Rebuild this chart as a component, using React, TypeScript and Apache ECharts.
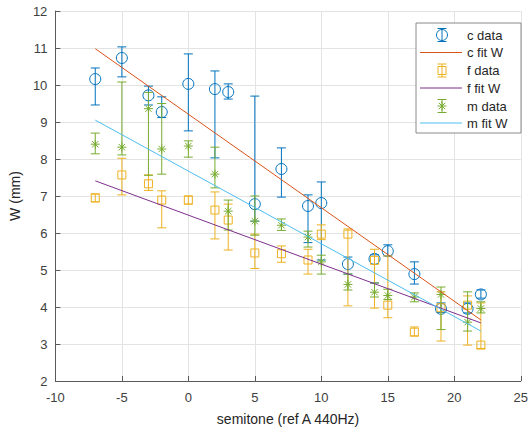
import React, { useEffect, useRef } from "react";
import * as echarts from "echarts";

// semitone positions (ref A 440Hz)
const semitones = [-7, -5, -3, -2, 0, 2, 3, 5, 7, 9, 10, 12, 14, 15, 17, 19, 21, 22];

// c data: mean, lower, upper
const cMean = [10.16, 10.73, 9.72, 9.27, 10.03, 9.89, 9.81, 6.78, 7.73, 6.73, 6.81, 5.16, 5.3, 5.51, 4.89, 3.95, 3.95, 4.34];
const cLow = [9.46, 10.22, 9.46, 9.12, 8.76, 8.03, 9.62, 6.32, 6.97, 5.74, 5.27, 4.89, 4.65, 5.38, 4.62, 3.85, 3.84, 4.24];
const cHigh = [10.46, 11.03, 9.97, 9.68, 10.84, 10.38, 10.03, 9.7, 8.3, 7.03, 7.38, 5.35, 5.41, 5.68, 5.22, 4.11, 4.11, 4.46];

// f data
const fMean = [6.95, 7.57, 7.33, 6.89, 6.89, 6.62, 6.35, 5.46, 5.44, 5.27, 5.97, 5.97, 5.26, 4.05, 3.32, 3.98, 4.05, 2.97];
const fLow = [6.84, 7.03, 7.15, 6.14, 6.78, 5.84, 5.54, 5.04, 5.21, 4.89, 5.82, 4.03, 3.97, 3.71, 3.22, 3.08, 2.97, 2.88];
const fHigh = [7.05, 8.02, 7.57, 7.14, 7.0, 7.11, 6.78, 5.97, 5.65, 5.56, 6.22, 6.11, 5.56, 5.38, 3.46, 4.41, 4.3, 4.11];

// m data
const mMean = [8.4, 8.32, 9.36, 8.27, 8.35, 7.59, 6.59, 6.32, 6.21, 5.89, 5.22, 4.61, 4.4, 4.31, 4.27, 4.34, 3.59, 3.96];
const mLow = [8.14, 8.11, 7.56, 7.59, 8.05, 7.22, 6.08, 5.94, 6.07, 5.62, 4.89, 4.46, 4.27, 4.2, 4.14, 3.39, 3.35, 3.84];
const mHigh = [8.7, 10.08, 9.8, 9.5, 8.49, 8.32, 6.89, 7.0, 6.38, 6.05, 5.4, 4.89, 4.65, 4.48, 4.38, 4.54, 4.41, 4.14];

// linear fits (endpoints)
const fitX = [-7, 22];
const cFit = [10.98, 3.65];
const fFit = [7.41, 3.57];
const mFit = [9.05, 3.35];

const legendLabels = ["c data", "c fit W", "f data", "f fit W", "m data", "m fit W"];

const BLUE = "#0072BD";
const RED = "#D95319";
const YELLOW = "#EDB120";
const PURPLE = "#7E2F8E";
const GREEN = "#77AC30";
const CYAN = "#4DBEEE";

type Kind = "circle" | "square" | "star";

function marker(kind: Kind, cx: number, cy: number, color: string): any[] {
  const st = { fill: "none", stroke: color, lineWidth: 1 };
  if (kind === "circle") {
    return [{ type: "circle", shape: { cx, cy, r: 5.5 }, style: st }];
  }
  if (kind === "square") {
    return [{ type: "rect", shape: { x: cx - 4, y: cy - 4, width: 8, height: 8 }, style: st }];
  }
  const a = 4.5;
  const d = 3.2;
  return [
    { type: "line", shape: { x1: cx - a, y1: cy, x2: cx + a, y2: cy }, style: st },
    { type: "line", shape: { x1: cx, y1: cy - a, x2: cx, y2: cy + a }, style: st },
    { type: "line", shape: { x1: cx - d, y1: cy - d, x2: cx + d, y2: cy + d }, style: st },
    { type: "line", shape: { x1: cx - d, y1: cy + d, x2: cx + d, y2: cy - d }, style: st },
  ];
}

function errorGlyph(kind: Kind, cx: number, cy: number, top: number, bottom: number, color: string): any[] {
  const st = { stroke: color, lineWidth: 1 };
  const cap = 4.5;
  return [
    { type: "line", shape: { x1: cx, y1: top, x2: cx, y2: bottom }, style: st },
    { type: "line", shape: { x1: cx - cap, y1: top, x2: cx + cap, y2: top }, style: st },
    { type: "line", shape: { x1: cx - cap, y1: bottom, x2: cx + cap, y2: bottom }, style: st },
    ...marker(kind, cx, cy, color),
  ];
}

function errSeries(name: string, mean: number[], lo: number[], hi: number[], kind: Kind, color: string) {
  return {
    type: "custom",
    name,
    data: semitones.map((x, i) => [x, mean[i], lo[i], hi[i]]),
    encode: { x: 0, y: 1 },
    renderItem: (_params: any, api: any) => {
      const x = api.value(0);
      const p = api.coord([x, api.value(1)]);
      const pl = api.coord([x, api.value(2)]);
      const ph = api.coord([x, api.value(3)]);
      return {
        type: "group",
        children: errorGlyph(kind, p[0], p[1], ph[1], pl[1], color),
      };
    },
  };
}

function fitSeries(name: string, ys: number[], color: string) {
  return {
    type: "line",
    name,
    data: fitX.map((x, i) => [x, ys[i]]),
    symbol: "none",
    lineStyle: { color, width: 1 },
  };
}

export default function App() {
  const ref = useRef<HTMLDivElement>(null);
  useEffect(() => {
    if (!ref.current) return;
    const chart = echarts.init(ref.current, null, { renderer: "svg" });
    const font = "Liberation Sans, Arial, Helvetica, sans-serif";
    const labelColor = "#404040";

    // legend drawn as graphics
    const lx = 416, ly = 23, lw = 105, lh = 110;
    const rowY = [35, 52.5, 70.5, 88, 106, 123];
    const iconCx = 442;
    const legendChildren: any[] = [
      { type: "rect", shape: { x: lx, y: ly, width: lw, height: lh }, style: { fill: "#ffffff", stroke: "#8a8a8a", lineWidth: 1 } },
    ];
    const legendKinds: any[] = [
      { k: "circle", c: BLUE },
      { line: RED },
      { k: "square", c: YELLOW },
      { line: PURPLE },
      { k: "star", c: GREEN },
      { line: CYAN },
    ];
    legendKinds.forEach((it, i) => {
      const y = rowY[i];
      if (it.line) {
        legendChildren.push({ type: "line", shape: { x1: 420, y1: y, x2: 462, y2: y }, style: { stroke: it.line, lineWidth: 1 } });
      } else {
        legendChildren.push(...errorGlyph(it.k, iconCx, y, y - 6.5, y + 6.5, it.c));
      }
      legendChildren.push({
        type: "text",
        x: 467,
        y,
        style: { text: legendLabels[i], fill: "#262626", font: `13px ${font}`, verticalAlign: "middle", align: "left" },
      });
    });
    legendChildren.forEach((el, i) => {
      el.z = 100;
      el.z2 = i === 0 ? 0 : 10;
    });

    chart.setOption({
      animation: false,
      grid: { left: 54, right: 8, top: 11, bottom: 51, containLabel: false },
      xAxis: {
        type: "value",
        min: -10,
        max: 25,
        interval: 5,
        name: "semitone (ref A 440Hz)",
        nameLocation: "middle",
        nameGap: 31,
        nameTextStyle: { color: "#262626", fontSize: 14, fontFamily: font },
        axisLine: { show: true, onZero: false, lineStyle: { color: "#5a5a5a", width: 1 } },
        axisTick: { show: true, inside: true, length: 5, lineStyle: { color: "#5a5a5a" } },
        axisLabel: { color: labelColor, fontSize: 13, fontFamily: font, margin: 10 },
        splitLine: { show: true, lineStyle: { color: "#e3e3e3", width: 1 } },
      },
      yAxis: {
        type: "value",
        min: 2,
        max: 12,
        interval: 1,
        name: "W (mm)",
        nameLocation: "middle",
        nameGap: 30,
        nameRotate: 90,
        nameTextStyle: { color: "#262626", fontSize: 14, fontFamily: font },
        axisLine: { show: true, onZero: false, lineStyle: { color: "#5a5a5a", width: 1 } },
        axisTick: { show: true, inside: true, length: 5, lineStyle: { color: "#5a5a5a" } },
        axisLabel: { color: labelColor, fontSize: 13, fontFamily: font, margin: 8 },
        splitLine: { show: true, lineStyle: { color: "#e3e3e3", width: 1 } },
      },
      series: [
        errSeries("c data", cMean, cLow, cHigh, "circle", BLUE),
        fitSeries("c fit W", cFit, RED),
        errSeries("f data", fMean, fLow, fHigh, "square", YELLOW),
        fitSeries("f fit W", fFit, PURPLE),
        errSeries("m data", mMean, mLow, mHigh, "star", GREEN),
        fitSeries("m fit W", mFit, CYAN),
      ],
      graphic: { elements: legendChildren },
    });
    return () => chart.dispose();
  }, []);
  return (
    <div
      ref={ref}
      style={{ position: "fixed", left: 0, top: 0, width: 531, height: 432, background: "#fff" }}
    />
  );
}
